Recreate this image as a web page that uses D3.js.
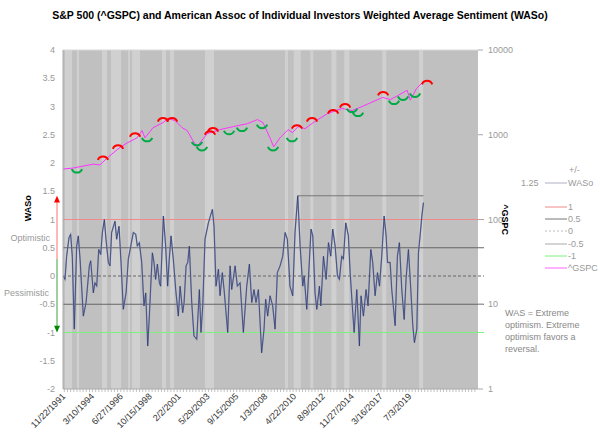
<!DOCTYPE html>
<html><head><meta charset="utf-8">
<script src="https://cdn.jsdelivr.net/npm/d3@7"></script>
<style>body{margin:0;background:#fff}text{font-family:"Liberation Sans",Arial,sans-serif}</style>
</head><body>
<script>
// decimal year -> value
var wasYears = [1991.92,1992.05,1992.18,1992.37,1992.50,1992.63,1992.79,1992.98,1993.11,1993.25,1993.51,1993.73,1993.99,1994.10,1994.31,1994.44,1994.58,1994.74,1994.90,1995.03,1995.19,1995.32,1995.51,1995.64,1995.77,1996.04,1996.17,1996.36,1996.52,1996.70,1996.92,1997.10,1997.50,1997.69,1997.82,1997.98,1998.17,1998.35,1998.49,1998.65,1998.78,1998.89,1999.02,1999.15,1999.28,1999.42,1999.58,1999.68,1999.90,2000.08,2000.24,2000.35,2000.51,2000.69,2000.88,2001.09,2001.23,2001.44,2001.55,2001.71,2001.84,2001.97,2002.16,2002.34,2002.56,2002.77,2002.90,2003.04,2003.22,2003.49,2003.81,2003.94,2004.10,2004.29,2004.42,2004.60,2004.74,2005.03,2005.22,2005.35,2005.62,2005.80,2006.02,2006.28,2006.55,2006.76,2006.95,2007.13,2007.29,2007.48,2007.74,2007.93,2008.06,2008.22,2008.41,2008.62,2008.81,2008.99,2009.21,2009.42,2009.61,2009.79,2010.00,2010.22,2010.40,2010.62,2010.81,2011.02,2011.13,2011.34,2011.47,2011.68,2011.82,2012.00,2012.14,2012.35,2012.46,2012.67,2012.88,2013.07,2013.25,2013.41,2013.60,2013.79,2013.94,2014.13,2014.26,2014.45,2014.66,2014.80,2015.01,2015.12,2015.33,2015.54,2015.67,2015.86,2016.07,2016.23,2016.45,2016.60,2016.79,2016.98,2017.14,2017.32,2017.51,2017.67,2017.78,2017.99,2018.12,2018.39,2018.57,2018.73,2018.92,2019.11,2019.26,2019.45,2019.64,2019.80,2019.93,2020.12,2020.25,2020.38,2020.52,2020.65];
var wasValues = [0,-0.06,0.35,0.68,0.74,0.35,-0.94,0.53,0.71,0.3,-0.71,-0.47,0.18,0.27,-0.3,-0.12,-0.18,0.47,0.38,0.77,1.0,0.65,0.24,0.18,0.77,0.97,0.65,0.88,0.24,-0.59,-0.3,0.3,0.77,0.74,0.53,0.59,0.24,-0.53,-0.3,-1.24,-0.71,-0.18,0.41,0.24,-0.06,0.21,-0.12,-0.18,1.06,0.53,-0.18,0.24,0.71,0.3,-0.24,-0.71,-0.18,-0.65,-0.47,0.18,0.24,0.53,-0.47,-1.06,-1.12,-0.24,-1.0,-0.53,0.65,0.94,1.18,0.88,-0.18,0.12,-0.35,0.06,-0.24,-1.0,0.18,-0.24,0.18,-0.18,-0.12,-1.0,-0.18,0.21,-0.47,-0.24,-0.47,-0.24,-1.36,-0.94,-0.41,-0.71,-0.35,-0.53,-0.94,0.06,0.18,0.35,0.77,0.65,-0.18,-0.35,0.77,1.42,0.53,-0.18,0,-0.59,-0.06,0.83,0.71,-0.3,-0.59,-0.18,-0.53,0.35,-0.06,0.59,0.35,0.83,0.53,0,-0.06,0.35,0.3,0.94,0.71,0.06,-0.65,-1.0,-0.24,-1.24,-0.35,-0.71,-0.24,-0.53,0.47,0.24,-0.35,0.06,-0.18,0.35,1.06,0.71,0.24,0.24,-0.24,-0.88,0.35,0.59,-0.24,-0.77,-0.06,0.47,-0.24,-0.88,-1.18,-0.94,0.41,0.71,1.06,1.3];

var spxYears = [1991.9,1992.7,1994.3,1994.84,1995.4,1996.28,1997.0,1997.8,1998.2,1998.43,1999.07,1999.87,2000.27,2000.83,2001.4,2001.8,2002.26,2002.6,2002.8,2003.4,2004.4,2005.5,2006.6,2007.4,2007.85,2008.4,2008.7,2009.2,2009.85,2010.2,2010.65,2011.2,2011.85,2013.0,2014.15,2014.95,2015.75,2017.4,2018.0,2018.6,2019.35,2019.6,2020.1,2020.6];
var spxValues = [394,405,450,440,530,680,800,920,1120,920,1210,1390,1550,1470,1210,1120,850,720,800,1030,1150,1250,1350,1510,1390,920,720,920,1150,1060,1250,1180,1390,1780,2040,1930,2150,2760,2600,2900,3340,2560,3530,4170];

var topYears = [1995.08,1996.28,1997.64,1999.87,2000.59,2003.62,2003.86,2010.56,2011.76,2013.44,2014.4,2017.43,2020.94];
var topValues = [533,720,1000,1510,1510,1056,1150,1245,1510,1880,2210,3075,4160];
var bottomYears = [1993.0,1998.6,2002.58,2002.98,2005.14,2006.17,2007.77,2008.65,2010.16,2014.95,2015.43,2018.3,2019.02,2019.98];
var bottomValues = [373,872,781,681,1056,1150,1245,681,872,1930,1730,2400,2680,2910];

var bandStart = [1992.05,1993.0,1995.0,1995.72,1997.08,1997.4,1999.79,2000.43,2003.22,2009.6,2010.3,2011.62,2013.3,2014.33,2017.36,2020.3];
var bandEnd   = [1992.61,1993.17,1995.4,1996.52,1997.24,1998.03,2000.11,2000.75,2003.94,2009.84,2010.86,2011.86,2013.7,2014.73,2017.68,2020.62];

var xTickLabels = ['11/22/1991','3/10/1994','6/27/1996','10/15/1998','2/2/2001','5/29/2003','9/15/2005','1/3/2008','4/22/2010','8/9/2012','11/27/2014','3/16/2017','7/3/2019'];

var levelValues = [1, 0.5, 0, -0.5, -1];
var levelColors = ['#f08a8a', '#666', '#666', '#666', '#7ef07e'];
var maxLine = {start: 2010.62, end: 2020.65, value: 1.42};

function yr(d){
	var y = Math.floor(d), a = new Date(y,0,1), b = new Date(y+1,0,1);
	return new Date(+a + (d-y)*(b-a));
}
function parseMDY(s){
	var p = s.split('/');
	return new Date(+p[2], +p[0]-1, +p[1]);
}

var L = 63, R = 478, T = 50, B = 389;
var svg = d3.select('body').append('svg').attr('width', 600).attr('height', 436);
var x = d3.scaleTime().domain([new Date(1991,10,22), yr(2025.0)]).range([L, R]);
var yL = d3.scaleLinear().domain([-2, 4]).range([B, T]);
var yR = d3.scaleLog().domain([1, 10000]).range([B, T]);

svg.append('text').attr('x', 300).attr('y', 19).attr('text-anchor', 'middle')
	.style('font-size', '10.5px').style('font-weight', 'bold')
	.text('S&P 500 (^GSPC) and American Assoc of Individual Investors Weighted Average Sentiment (WASo)');

svg.append('rect').attr('x', L).attr('y', T).attr('width', R-L).attr('height', B-T).attr('fill', '#c0c0c0');
svg.selectAll('.band').data(bandStart).enter().append('rect')
	.attr('x', function(d){ return x(yr(d)); })
	.attr('width', function(d, i){ return x(yr(bandEnd[i])) - x(yr(d)); })
	.attr('y', T).attr('height', B-T).attr('fill', '#d0d0d0');
svg.append('line').attr('x1', L).attr('x2', R).attr('y1', T).attr('y2', T).attr('stroke', '#d8d8d8');

// level lines
svg.selectAll('.lvl').data(levelValues).enter().append('line')
	.attr('x1', L).attr('x2', R + 6)
	.attr('y1', function(d){ return yL(d); }).attr('y2', function(d){ return yL(d); })
	.attr('stroke', function(d, i){ return levelColors[i]; })
	.attr('stroke-dasharray', function(d){ return d === 0 ? '3,2' : null; });
svg.append('line').attr('x1', x(yr(maxLine.start))).attr('x2', x(yr(maxLine.end)))
	.attr('y1', yL(maxLine.value)).attr('y2', yL(maxLine.value)).attr('stroke', '#777');

// WASo
var wasLine = d3.line().x(function(d){ return x(yr(d)); }).y(function(d, i){ return yL(wasValues[i]); });
svg.append('path').attr('d', wasLine(wasYears)).attr('fill', 'none').attr('stroke', '#8a92b0').attr('stroke-width', 1.4);
svg.append('path').attr('d', wasLine(wasYears)).attr('fill', 'none').attr('stroke', '#1f2a66').attr('stroke-width', 0.6);

// S&P
var spxLine = d3.line().x(function(d){ return x(yr(d)); }).y(function(d, i){ return yR(spxValues[i]); });
svg.append('path').attr('d', spxLine(spxYears)).attr('fill', 'none').attr('stroke', '#ff33ff').attr('stroke-width', 1);

var arc = d3.arc().innerRadius(4.5).outerRadius(6.5);
svg.selectAll('.top').data(topYears).enter().append('path')
	.attr('transform', function(d, i){ return 'translate(' + x(yr(d)) + ',' + (yR(topValues[i]) + 4) + ')'; })
	.attr('d', arc({startAngle: -1.2, endAngle: 1.2})).attr('fill', '#f00');
svg.selectAll('.bot').data(bottomYears).enter().append('path')
	.attr('transform', function(d, i){ return 'translate(' + x(yr(d)) + ',' + (yR(bottomValues[i]) - 4) + ')'; })
	.attr('d', arc({startAngle: Math.PI - 1.2, endAngle: Math.PI + 1.2})).attr('fill', '#00aa44');

// left axis
var lt = d3.range(-2, 4.01, 0.5);
svg.selectAll('.lt').data(lt).enter().append('text')
	.attr('x', L - 8).attr('y', function(d){ return yL(d) + 3; }).attr('text-anchor', 'end')
	.style('font-size', '9px').attr('fill', '#999').text(function(d){ return d; });
svg.append('line').attr('x1', L).attr('x2', L).attr('y1', T).attr('y2', B).attr('stroke', '#aaa');
// right axis
var rt = [1, 10, 100, 1000, 10000];
svg.selectAll('.rt').data(rt).enter().append('text')
	.attr('x', R + 10).attr('y', function(d){ return yR(d) + 3; })
	.style('font-size', '9px').attr('fill', '#999').text(function(d){ return d; });
svg.selectAll('.rtk').data(rt).enter().append('line')
	.attr('x1', R).attr('x2', R + 5).attr('y1', function(d){ return yR(d); }).attr('y2', function(d){ return yR(d); })
	.attr('stroke', '#aaa');

// bottom axis
var minor = d3.timeMonth.every(3).range(x.domain()[0], x.domain()[1]);
svg.selectAll('.mt').data(minor).enter().append('line')
	.attr('x1', function(d){ return x(d); }).attr('x2', function(d){ return x(d); })
	.attr('y1', B).attr('y2', B + 3).attr('stroke', '#999').attr('stroke-width', 0.6);
svg.append('line').attr('x1', L).attr('x2', R).attr('y1', B).attr('y2', B).attr('stroke', '#aaa');
svg.selectAll('.xl').data(xTickLabels).enter().append('text')
	.attr('transform', function(d){ return 'translate(' + (x(parseMDY(d)) + 3) + ',' + (B + 8) + ') rotate(-45)'; })
	.attr('text-anchor', 'end').style('font-size', '9px').attr('fill', '#333').text(function(d){ return d; });

// axis titles
svg.append('text').attr('transform', 'translate(31,' + yL(1.2) + ') rotate(-90)').attr('text-anchor', 'middle')
	.style('font-size', '9px').style('font-weight', 'bold').text('WASo');
svg.append('text').attr('transform', 'translate(502,' + yR(100) + ') rotate(90)').attr('text-anchor', 'middle')
	.style('font-size', '9px').style('font-weight', 'bold').text('^GSPC');

// sentiment arrow
var ax = 57;
svg.append('line').attr('x1', ax).attr('x2', ax).attr('y1', yL(1.38)).attr('y2', yL(0.3)).attr('stroke', '#ff7070');
svg.append('line').attr('x1', ax).attr('x2', ax).attr('y1', yL(0.3)).attr('y2', yL(-0.92)).attr('stroke', '#40a040');
svg.append('path').attr('d', 'M' + (ax-3) + ',' + (yL(1.3)) + 'L' + ax + ',' + (yL(1.42)) + 'L' + (ax+3) + ',' + yL(1.3) + 'Z').attr('fill', '#f00');
svg.append('path').attr('d', 'M' + (ax-3) + ',' + (yL(-0.88)) + 'L' + ax + ',' + (yL(-1.0)) + 'L' + (ax+3) + ',' + yL(-0.88) + 'Z').attr('fill', '#080');
svg.append('text').attr('x', 50).attr('y', yL(0.68) + 3).attr('text-anchor', 'end').style('font-size', '9px').attr('fill', '#999').text('Optimistic');
svg.append('text').attr('x', 49).attr('y', yL(-0.3) + 3).attr('text-anchor', 'end').style('font-size', '9px').attr('fill', '#999').text('Pessimistic');

// legend
var leg = svg.append('g').style('font-size', '9px').attr('fill', '#999');
leg.append('text').attr('x', 569).attr('y', 173).text('+/-');
leg.append('text').attr('x', 521).attr('y', 186).text('1.25');
var legItems = [['WASo', '#b0b0c8', null, 183], ['1', '#f08a8a', null, 207], ['0.5', '#777', null, 219], ['0', '#bbb', '2,2', 231], ['-0.5', '#aaa', null, 244], ['-1', '#7ef07e', null, 256], ['^GSPC', '#ff66ff', null, 268]];
legItems.forEach(function(it){
	leg.append('line').attr('x1', 545).attr('x2', 567).attr('y1', it[3]).attr('y2', it[3]).attr('stroke', it[1]).attr('stroke-dasharray', it[2]);
	leg.append('text').attr('x', 568).attr('y', it[3] + 3).text(it[0]);
});
['WAS = Extreme', 'optimism.  Extreme', 'optimism favors a', 'reversal.'].forEach(function(s, i){
	leg.append('text').attr('x', 505).attr('y', 316 + i*12).attr('fill', '#888').text(s);
});
</script>
</body></html>
